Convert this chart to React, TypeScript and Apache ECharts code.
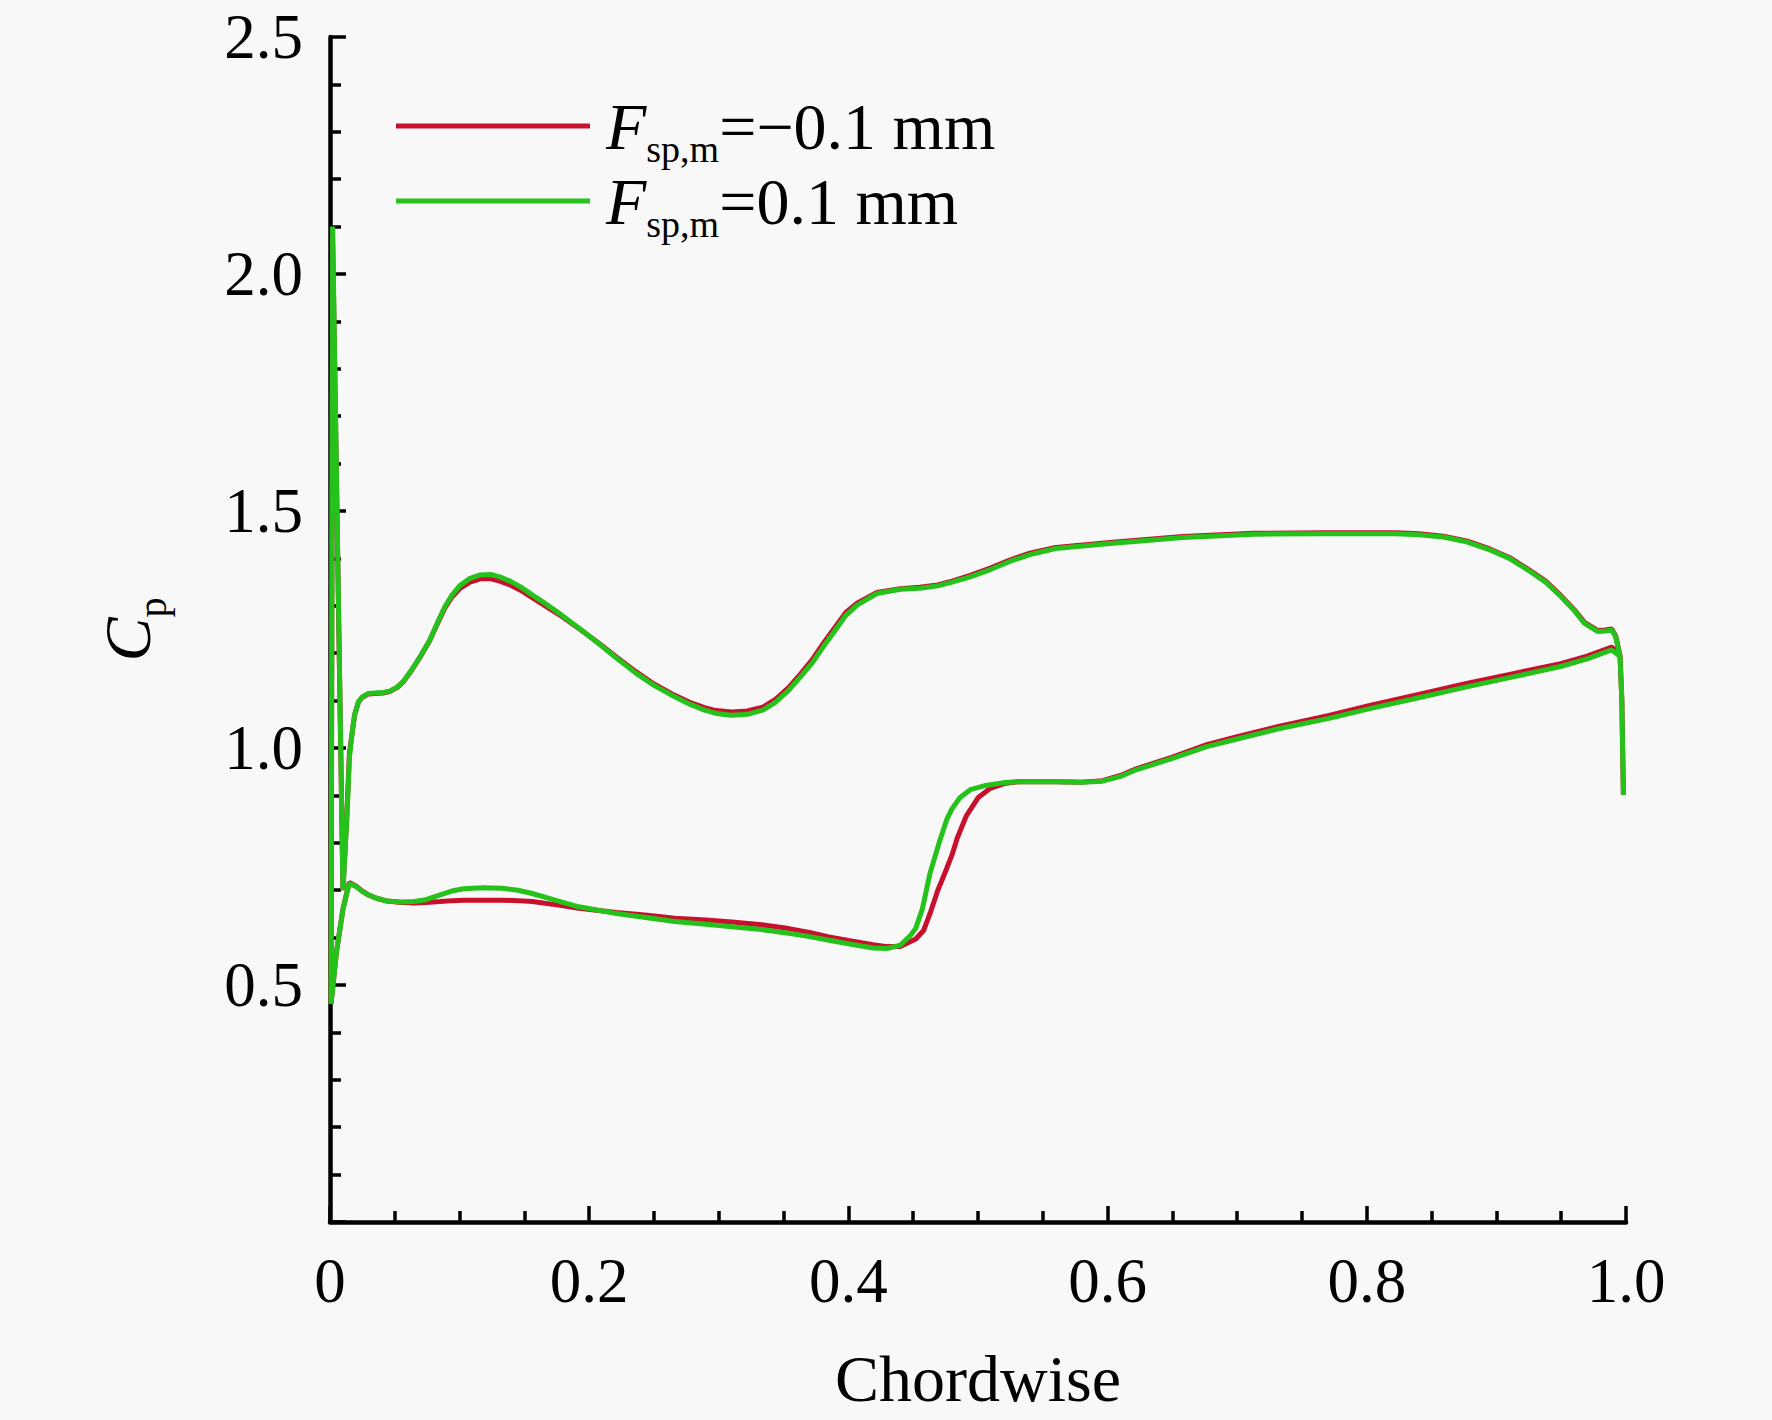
import React, { useEffect, useRef } from 'react';
import * as echarts from 'echarts';

const FONT = '"Liberation Serif", "Times New Roman", Times, serif';

// Axis settings / tick labels
const xTickValues = [0, 0.2, 0.4, 0.6, 0.8, 1.0];
const xTickLabels = ['0', '0.2', '0.4', '0.6', '0.8', '1.0'];
const yTickValues = [0, 0.5, 1.0, 1.5, 2.0, 2.5];
const yTickLabels = ['', '0.5', '1.0', '1.5', '2.0', '2.5'];

const seriesNames = ['Fsp,m=−0.1 mm', 'Fsp,m=0.1 mm'];
const seriesColors = ['#c8102e', '#26c21c'];

// Fsp,m = 0.1 mm (green): upper surface from trailing edge to leading edge (incl. LE spike)
const upperPos: number[][] = [
  [0.998, 0.901], [0.9968, 1.10], [0.9954, 1.193], [0.992, 1.235], [0.989, 1.249],
  [0.984, 1.247], [0.978, 1.246], [0.968, 1.263], [0.96, 1.29], [0.95, 1.319],
  [0.938, 1.35], [0.924, 1.376], [0.91, 1.4], [0.895, 1.418], [0.877, 1.435],
  [0.859, 1.445], [0.84, 1.45], [0.822, 1.452], [0.7675, 1.452], [0.713, 1.451],
  [0.658, 1.444], [0.604, 1.432], [0.56, 1.421], [0.54, 1.408], [0.524, 1.393],
  [0.51, 1.377], [0.494, 1.361], [0.48, 1.35], [0.469, 1.342], [0.455, 1.337],
  [0.44, 1.335], [0.422, 1.326], [0.407, 1.302], [0.398, 1.28], [0.39, 1.249],
  [0.381, 1.215], [0.372, 1.179], [0.363, 1.15], [0.354, 1.122], [0.344, 1.097],
  [0.334, 1.08], [0.322, 1.071], [0.31, 1.069], [0.298, 1.073], [0.289, 1.08],
  [0.278, 1.092], [0.266, 1.108], [0.25, 1.132], [0.236, 1.158], [0.221, 1.19],
  [0.207, 1.221], [0.192, 1.253], [0.177, 1.284], [0.166, 1.305], [0.156, 1.323],
  [0.147, 1.34], [0.139, 1.352], [0.131, 1.361], [0.124, 1.366], [0.116, 1.365],
  [0.108, 1.358], [0.1, 1.342], [0.094, 1.322], [0.0886, 1.298], [0.083, 1.265],
  [0.077, 1.228], [0.07, 1.195], [0.063, 1.165], [0.057, 1.142], [0.052, 1.129],
  [0.046, 1.12], [0.041, 1.117], [0.035, 1.116], [0.0295, 1.115], [0.025, 1.108],
  [0.022, 1.098], [0.019, 1.07], [0.017, 1.03], [0.015, 0.98], [0.013, 0.85],
  [0.01, 0.7], [0.002, 2.1], [0.0008, 0.46],
];

// Fsp,m = 0.1 mm (green): lower surface from leading edge to trailing edge
const lowerPos: number[][] = [
  [0.0008, 0.46], [0.005, 0.57], [0.01, 0.66], [0.0148, 0.714], [0.02, 0.708],
  [0.025, 0.697], [0.0295, 0.69], [0.036, 0.683], [0.044, 0.677], [0.055, 0.675],
  [0.065, 0.676], [0.074, 0.68], [0.085, 0.69], [0.095, 0.699], [0.103, 0.703],
  [0.118, 0.705], [0.133, 0.704], [0.145, 0.7], [0.156, 0.693], [0.175, 0.678],
  [0.192, 0.665], [0.221, 0.651], [0.245, 0.642], [0.266, 0.634], [0.29, 0.628],
  [0.31, 0.623], [0.333, 0.617], [0.354, 0.609], [0.37, 0.602], [0.384, 0.595],
  [0.4, 0.587], [0.419, 0.578], [0.43, 0.577], [0.44, 0.584], [0.448, 0.605],
  [0.452, 0.62], [0.457, 0.66], [0.463, 0.736], [0.47, 0.8], [0.476, 0.85],
  [0.48, 0.872], [0.486, 0.895], [0.494, 0.912], [0.506, 0.921], [0.52, 0.927],
  [0.531, 0.929], [0.56, 0.929], [0.58, 0.928], [0.596, 0.93], [0.61, 0.94],
  [0.622, 0.954], [0.65, 0.978], [0.6765, 1.003], [0.7, 1.019], [0.731, 1.04],
  [0.77, 1.062], [0.804, 1.084], [0.84, 1.106], [0.877, 1.129], [0.913, 1.15],
  [0.9496, 1.172], [0.97, 1.188], [0.989, 1.207], [0.9954, 1.193],
];

// Fsp,m = -0.1 mm (red): upper surface from trailing edge to leading edge
const upperNeg: number[][] = [
  [0.998, 0.901], [0.9968, 1.10], [0.9954, 1.195], [0.992, 1.237], [0.989, 1.251],
  [0.984, 1.249], [0.978, 1.248], [0.968, 1.265], [0.96, 1.292], [0.95, 1.321],
  [0.938, 1.352], [0.924, 1.378], [0.91, 1.402], [0.895, 1.42], [0.877, 1.437],
  [0.859, 1.447], [0.84, 1.452], [0.822, 1.454], [0.7675, 1.454], [0.713, 1.453],
  [0.658, 1.446], [0.604, 1.434], [0.56, 1.423], [0.54, 1.411], [0.524, 1.396],
  [0.51, 1.38], [0.494, 1.364], [0.48, 1.352], [0.469, 1.344], [0.455, 1.339],
  [0.44, 1.336], [0.422, 1.328], [0.407, 1.306], [0.398, 1.286], [0.39, 1.256],
  [0.381, 1.222], [0.372, 1.186], [0.363, 1.156], [0.354, 1.128], [0.344, 1.103],
  [0.334, 1.086], [0.322, 1.078], [0.31, 1.076], [0.298, 1.079], [0.289, 1.085],
  [0.278, 1.096], [0.266, 1.111], [0.25, 1.135], [0.236, 1.161], [0.221, 1.192],
  [0.207, 1.222], [0.192, 1.252], [0.177, 1.281], [0.166, 1.3], [0.156, 1.317],
  [0.147, 1.333], [0.139, 1.344], [0.131, 1.352], [0.124, 1.357], [0.116, 1.357],
  [0.108, 1.35], [0.1, 1.336], [0.094, 1.318], [0.0886, 1.295], [0.083, 1.263],
  [0.077, 1.227], [0.07, 1.194], [0.063, 1.164], [0.057, 1.141], [0.052, 1.128],
  [0.046, 1.119], [0.041, 1.116], [0.035, 1.115], [0.0295, 1.114], [0.025, 1.107],
  [0.022, 1.097], [0.019, 1.07], [0.017, 1.03], [0.015, 0.99], [0.013, 0.86],
  [0.01, 0.7], [0.002, 2.08], [0.0008, 0.46],
];

// Fsp,m = -0.1 mm (red): lower surface from leading edge to trailing edge
const lowerNeg: number[][] = [
  [0.0008, 0.46], [0.005, 0.57], [0.01, 0.66], [0.0148, 0.716], [0.02, 0.709],
  [0.025, 0.698], [0.0295, 0.69], [0.036, 0.683], [0.044, 0.677], [0.055, 0.674],
  [0.065, 0.673], [0.074, 0.674], [0.085, 0.676], [0.095, 0.678], [0.103, 0.679],
  [0.118, 0.679], [0.133, 0.679], [0.145, 0.678], [0.156, 0.676], [0.175, 0.669],
  [0.192, 0.662], [0.221, 0.653], [0.245, 0.647], [0.266, 0.641], [0.29, 0.637],
  [0.31, 0.633], [0.333, 0.627], [0.354, 0.619], [0.37, 0.611], [0.384, 0.602],
  [0.4, 0.594], [0.419, 0.585], [0.43, 0.581], [0.44, 0.581], [0.452, 0.597],
  [0.458, 0.615], [0.463, 0.651], [0.469, 0.7], [0.475, 0.74], [0.48, 0.775],
  [0.484, 0.81], [0.491, 0.857], [0.5, 0.895], [0.509, 0.914], [0.52, 0.925],
  [0.531, 0.929], [0.56, 0.929], [0.58, 0.928], [0.596, 0.931], [0.61, 0.942],
  [0.622, 0.956], [0.65, 0.981], [0.6765, 1.007], [0.7, 1.024], [0.731, 1.045],
  [0.77, 1.068], [0.804, 1.091], [0.84, 1.113], [0.877, 1.136], [0.913, 1.157],
  [0.9496, 1.178], [0.97, 1.194], [0.989, 1.213], [0.9954, 1.195],
];

const pathNeg = [...upperNeg, ...lowerNeg];
const pathPos = [...upperPos, ...lowerPos];

function fmtTick(values: number[], labels: string[]) {
  return (v: number) => {
    const i = values.findIndex((t) => Math.abs(t - v) < 1e-6);
    return i >= 0 ? labels[i] : '';
  };
}

const legendRich = {
  i: { fontFamily: FONT, fontStyle: 'italic', fontSize: 66, lineHeight: 66, verticalAlign: 'middle', color: '#000', padding: [0, 0, 0, 11] },
  s: { fontFamily: FONT, fontSize: 38, lineHeight: 24, height: 20, verticalAlign: 'bottom', color: '#000' },
  n: { fontFamily: FONT, fontSize: 66, lineHeight: 66, verticalAlign: 'middle', color: '#000' },
};

export default function App() {
  const ref = useRef<HTMLDivElement>(null);
  useEffect(() => {
    document.body.style.margin = '0';
    if (!ref.current) return;
    const chart = echarts.init(ref.current, null, { renderer: 'svg' });
    const axisLineStyle = { color: '#000', width: 4.5 };
    const tickStyle = { color: '#000', width: 3.5 };
    const option: any = {
      animation: false,
      backgroundColor: '#f8f8f8',
      grid: { left: 330, right: 146, top: 37, bottom: 198, containLabel: false },
      legend: {
        orient: 'vertical',
        left: 396,
        top: 93,
        padding: 0,
        itemGap: 0,
        itemWidth: 194,
        itemHeight: 5,
        icon: 'rect',
        selectedMode: false,
        data: seriesNames,
        formatter: (n: string) =>
          n === seriesNames[0] ? '{i|F}{s|sp,m}{n|=−0.1 mm}' : '{i|F}{s|sp,m}{n|=0.1 mm}',
        textStyle: { fontFamily: FONT, fontSize: 66, color: '#000', rich: legendRich },
      },
      xAxis: {
        type: 'value',
        min: 0,
        max: 1,
        interval: 0.2,
        name: 'Chordwise',
        nameLocation: 'middle',
        nameGap: 123,
        nameTextStyle: { fontFamily: FONT, fontSize: 66, color: '#000' },
        axisLine: { show: true, onZero: false, lineStyle: axisLineStyle },
        axisTick: { show: true, inside: true, length: 16, lineStyle: tickStyle },
        minorTick: { show: true, splitNumber: 4, length: 11, lineStyle: tickStyle },
        splitLine: { show: false },
        minorSplitLine: { show: false },
        axisLabel: {
          fontFamily: FONT,
          fontSize: 63,
          color: '#000',
          margin: 27,
          formatter: fmtTick(xTickValues, xTickLabels),
        },
      },
      yAxis: {
        type: 'value',
        min: 0,
        max: 2.5,
        interval: 0.5,
        name: '{c|C}{p|p}',
        nameLocation: 'middle',
        nameGap: 170,
        nameRotate: 90,
        nameTextStyle: {
          fontFamily: FONT,
          fontSize: 66,
          color: '#000',
          rich: {
            c: { fontFamily: FONT, fontStyle: 'italic', fontSize: 66, lineHeight: 66, verticalAlign: 'middle', color: '#000' },
            p: { fontFamily: FONT, fontSize: 40, lineHeight: 30, height: 15, verticalAlign: 'bottom', color: '#000' },
          },
        },
        axisLine: { show: true, onZero: false, lineStyle: axisLineStyle },
        axisTick: { show: true, inside: true, length: 16, lineStyle: tickStyle },
        minorTick: { show: true, splitNumber: 5, length: 11, lineStyle: tickStyle },
        splitLine: { show: false },
        minorSplitLine: { show: false },
        axisLabel: {
          fontFamily: FONT,
          fontSize: 63,
          color: '#000',
          margin: 27,
          formatter: fmtTick(yTickValues, yTickLabels),
        },
      },
      series: [
        {
          name: seriesNames[0],
          type: 'line',
          data: pathNeg,
          symbol: 'none',
          showSymbol: false,
          smooth: false,
          color: seriesColors[0],
          lineStyle: { color: seriesColors[0], width: 5 },
        },
        {
          name: seriesNames[1],
          type: 'line',
          data: pathPos,
          symbol: 'none',
          showSymbol: false,
          smooth: false,
          color: seriesColors[1],
          lineStyle: { color: seriesColors[1], width: 5 },
        },
      ],
    };
    chart.setOption(option);
    return () => chart.dispose();
  }, []);
  return (
    <div
      ref={ref}
      style={{ position: 'absolute', left: 0, top: 0, width: 1772, height: 1420, background: '#f8f8f8' }}
    />
  );
}
